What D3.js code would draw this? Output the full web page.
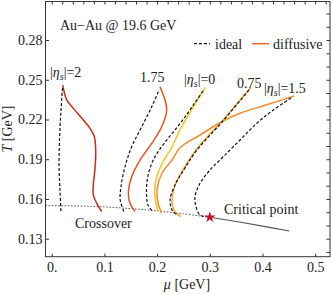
<!DOCTYPE html>
<html>
<head>
<meta charset="utf-8">
<script src="https://cdn.jsdelivr.net/npm/d3@7"></script>
<style>
  body { margin: 0; background: #fff; }
  svg { display: block; font-family: "Liberation Serif", "DejaVu Serif", serif; }
</style>
</head>
<body>
<svg width="332" height="294"></svg>
<script>
// tick values
const muTicks = [0, 0.1, 0.2, 0.3, 0.4, 0.5];
const muTickLabels = ['0.', '0.1', '0.2', '0.3', '0.4', '0.5'];
const tTicks = [0.13, 0.16, 0.19, 0.22, 0.25, 0.28];

// [mu, T]
const ideal2 = [[0.0205, 0.2438], [0.0176, 0.2272], [0.0148, 0.2045], [0.0139, 0.1856], [0.0157, 0.1668], [0.0176, 0.1502]];
const diff2 = [[0.0209, 0.246], [0.0285, 0.2348], [0.041, 0.2284], [0.06, 0.2196], [0.0727, 0.2133], [0.0808, 0.2071],
  [0.0835, 0.1957], [0.0822, 0.1832], [0.0789, 0.1706], [0.0789, 0.1631], [0.0854, 0.1567], [0.0949, 0.1504]];

const ideal175 = [[0.2023, 0.241], [0.1898, 0.2296], [0.1708, 0.2145], [0.1518, 0.1995], [0.1391, 0.1844],
  [0.1315, 0.1693], [0.13, 0.1592], [0.137, 0.1504]];
const diff175 = [[0.2055, 0.2447], [0.215, 0.2347], [0.2182, 0.2272], [0.2087, 0.2145], [0.1898, 0.202], [0.1676, 0.1894],
  [0.1518, 0.1768], [0.1454, 0.1643], [0.1486, 0.1567], [0.1581, 0.1504]];

const ideal0 = [[0.2871, 0.2415], [0.27, 0.2317], [0.2529, 0.2219], [0.234, 0.2121], [0.2169, 0.2038], [0.2017, 0.1955],
  [0.1898, 0.1869], [0.1818, 0.1758], [0.1799, 0.1645], [0.1827, 0.1554], [0.1922, 0.1502]];
const diff0 = [[0.2915, 0.2443], [0.2719, 0.2317], [0.2529, 0.2189], [0.2397, 0.209], [0.2283, 0.1992], [0.2131, 0.1894],
  [0.2017, 0.1796], [0.196, 0.1705], [0.196, 0.1607], [0.1989, 0.1547], [0.2023, 0.1504]];

const ideal075 = [[0.3744, 0.2423], [0.3231, 0.2181], [0.2757, 0.197], [0.2529, 0.1834], [0.234, 0.1705],
  [0.2245, 0.1592], [0.2283, 0.1517], [0.2378, 0.1479]];
const diff075 = [[0.3782, 0.2443], [0.3497, 0.2309], [0.3226, 0.2183], [0.2985, 0.2083], [0.2738, 0.197], [0.2491, 0.1819],
  [0.234, 0.1705], [0.2283, 0.1592], [0.2302, 0.1532], [0.2359, 0.1494], [0.2453, 0.1466]];

const ideal15 = [[0.4541, 0.2362], [0.4205, 0.2272], [0.389, 0.2171], [0.3573, 0.2045], [0.3256, 0.1919], [0.3004, 0.1819],
  [0.2814, 0.1718], [0.2719, 0.1617], [0.2738, 0.1542], [0.2814, 0.1479], [0.2909, 0.1466]];
const diff15 = [[0.4598, 0.2377], [0.4066, 0.2309], [0.3573, 0.2247], [0.3226, 0.2183], [0.2814, 0.2083], [0.2435, 0.1987],
  [0.2283, 0.1894], [0.2093, 0.1796], [0.1998, 0.1668], [0.2017, 0.157], [0.2087, 0.1494]];

const crossover = [[-0.012, 0.155], [0.05, 0.1547], [0.1, 0.154], [0.15, 0.1527], [0.2, 0.151], [0.25, 0.1488], [0.3, 0.1462]];
const firstOrder = [[0.3, 0.1462], [0.35, 0.143], [0.4, 0.1395], [0.451, 0.1358]];
const criticalPoint = [0.3, 0.1462];

const svg = d3.select('svg');
const x = d3.scaleLinear().domain([-0.0118, 0.5281]).range([45.5, 330]);
const y = d3.scaleLinear().domain([0.1164, 0.3091]).range([256.7, 1.5]);

svg.append('rect').attr('width', 332).attr('height', 294).attr('fill', '#fff');

const line = d3.line()
  .x((d) => x(d[0]))
  .y((d) => y(d[1]))
  .curve(d3.curveCatmullRom.alpha(0.5));

// crossover & first order
svg.append('path').datum(crossover).attr('d', line)
  .attr('fill', 'none').attr('stroke', '#444').attr('stroke-width', 0.9)
  .attr('stroke-dasharray', '1.6,1.6');
svg.append('path').datum(firstOrder).attr('d', line)
  .attr('fill', 'none').attr('stroke', '#555').attr('stroke-width', 1.2);

const curves = [
  { data: diff15, ideal: false, color: '#f4892c' },
  { data: diff075, ideal: false, color: '#efa52a' },
  { data: diff0, ideal: false, color: '#f6c61a' },
  { data: diff175, ideal: false, color: '#e8521e' },
  { data: diff2, ideal: false, color: '#cc2b18' },
  { data: ideal2, ideal: true },
  { data: ideal175, ideal: true },
  { data: ideal0, ideal: true },
  { data: ideal075, ideal: true },
  { data: ideal15, ideal: true },
];

svg.append('g').selectAll('path')
  .data(curves)
  .join('path')
  .attr('d', (d) => line(d.data))
  .attr('fill', 'none')
  .attr('stroke', (d) => (d.ideal ? '#111' : d.color))
  .attr('stroke-width', (d) => (d.ideal ? 1.2 : 1.5))
  .attr('stroke-dasharray', (d) => (d.ideal ? '3,2' : null));

// critical point star
svg.append('path')
  .attr('d', d3.symbol().type(d3.symbolStar).size(40)())
  .attr('transform', `translate(${x(criticalPoint[0])},${y(criticalPoint[1])})`)
  .attr('fill', '#c8102e');

// axes
const axisFont = (g) => g.selectAll('text').attr('font-family', 'Liberation Serif').attr('font-size', 14).attr('fill', '#222');

svg.append('g').attr('transform', 'translate(0,256.7)')
  .call(d3.axisBottom(x).tickValues(muTicks).tickFormat((d, i) => muTickLabels[i]).tickSize(-3).tickSizeOuter(0).tickPadding(5))
  .call(axisFont)
  .call((g) => g.select('.domain').remove());

svg.append('g').attr('transform', 'translate(45.5,0)')
  .call(d3.axisLeft(y).tickValues(tTicks).tickFormat(d3.format('.2f')).tickSize(-3.5).tickSizeOuter(0).tickPadding(3))
  .call(axisFont)
  .call((g) => g.select('.domain').remove());

svg.append('g').attr('transform', 'translate(0,1.5)')
  .call(d3.axisTop(x).tickValues(d3.range(0, 0.53, 0.02)).tickFormat('').tickSize(-3).tickSizeOuter(0))
  .call((g) => g.select('.domain').remove());

svg.append('g').attr('transform', 'translate(330,0)')
  .call(d3.axisRight(y).tickValues(d3.range(0.12, 0.305, 0.01)).tickFormat('').tickSize(-3.5).tickSizeOuter(0))
  .call((g) => g.select('.domain').remove());

svg.selectAll('.tick line').attr('stroke', '#333');

svg.append('rect')
  .attr('x', 45.5).attr('y', 1.5).attr('width', 330 - 45.5).attr('height', 256.7 - 1.5)
  .attr('fill', 'none').attr('stroke', '#333').attr('stroke-width', 1);

// axis titles
svg.append('text').attr('x', 187).attr('y', 289).attr('text-anchor', 'middle')
  .attr('font-size', 14).attr('fill', '#222')
  .html('<tspan font-style="italic">μ</tspan> [GeV]');
svg.append('text').attr('transform', 'translate(12,129) rotate(-90)').attr('text-anchor', 'middle')
  .attr('font-size', 14).attr('fill', '#222')
  .html('<tspan font-style="italic">T</tspan> [GeV]');

// annotations
const addText = (tx, ty, html) => svg.append('text').attr('x', tx).attr('y', ty)
  .attr('font-size', 14).attr('fill', '#222').html(html);

addText(60, 29.5, 'Au−Au @ 19.6 GeV');
addText(75, 228, 'Crossover');
addText(224, 213.5, 'Critical point');

const etaLabel = (v) => `|<tspan font-style="italic">η</tspan><tspan font-style="italic" font-size="10" dy="3">s</tspan><tspan dy="-3">|=${v}</tspan>`;
addText(50, 77, etaLabel('2'));
addText(140, 82, '1.75');
addText(184, 84, etaLabel('0'));
addText(237, 87.5, '0.75');
addText(264, 93, etaLabel('1.5'));

// legend
svg.append('line').attr('x1', 194).attr('x2', 210).attr('y1', 43.7).attr('y2', 43.7)
  .attr('stroke', '#111').attr('stroke-width', 1.2).attr('stroke-dasharray', '3,2');
addText(215, 48.5, 'ideal');
svg.append('line').attr('x1', 252).attr('x2', 269).attr('y1', 43.7).attr('y2', 43.7)
  .attr('stroke', '#f4622a').attr('stroke-width', 1.5);
addText(273, 48.5, 'diffusive');
</script>
</body>
</html>
